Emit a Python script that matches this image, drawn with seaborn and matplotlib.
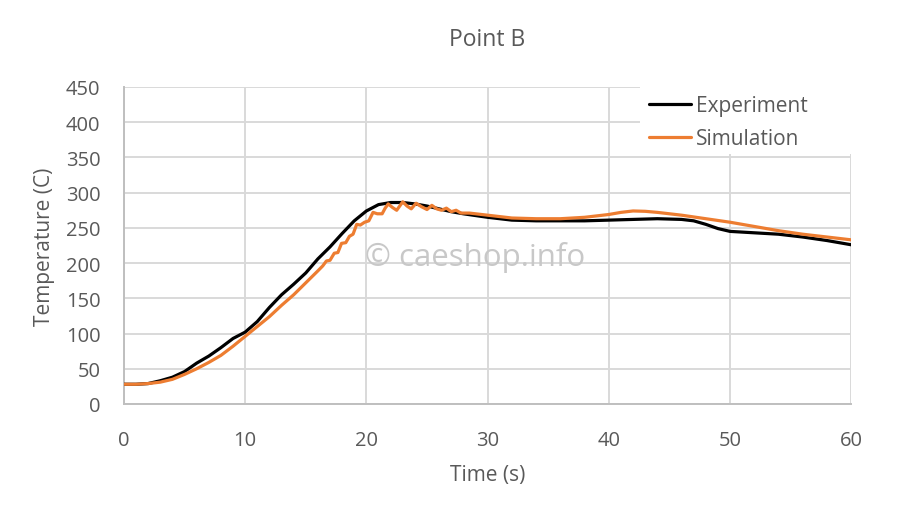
import numpy as np
import pandas as pd
import seaborn as sns
import matplotlib.pyplot as plt
from matplotlib.patches import Rectangle

# experiment curve
exp_t = [0, 1, 2, 3, 4, 5, 6, 7, 8, 9, 10, 11, 12, 13, 14, 15, 16, 17, 18, 19,
         20, 21, 22, 23, 24, 25, 26, 27, 28, 30, 32, 34, 36, 38, 40, 42, 44,
         46, 47, 48, 49, 50, 51, 52, 54, 56, 58, 60]
exp_T = [28, 28, 29, 33, 38, 46, 58, 68, 80, 93, 102, 117, 137, 155, 170, 186,
         206, 223, 242, 260, 274, 283, 286, 286, 284, 281, 277, 273, 270, 265,
         261, 260, 260, 260, 261, 262, 263, 262, 260, 255, 249, 245, 244, 243,
         241, 237, 232, 226]

# simulation curve, wiggles between ~16 and 28 s
sim_t = [0, 1, 2, 3, 4, 5, 6, 7, 8, 9, 10, 11, 12, 13, 14, 15, 16, 16.4, 16.7,
         17.0, 17.35, 17.65, 17.95, 18.3, 18.6, 18.9, 19.2, 19.5, 19.85, 20.2,
         20.55, 20.9, 21.3, 21.55, 21.8, 22.15, 22.5, 22.75, 23.0, 23.35, 23.7,
         23.9, 24.1, 24.55, 25.0, 25.2, 25.4, 25.8, 26.2, 26.6, 27.0, 27.4,
         27.8, 28.5, 30, 32, 34, 36, 38, 40, 41, 42, 43, 44, 46, 48, 50, 52,
         54, 56, 58, 60]
sim_T = [28, 28, 29, 31, 35, 42, 50, 59, 69, 82, 96, 110, 124, 140, 155, 172,
         189, 196, 203, 204, 214, 215, 228, 229, 238, 241, 255, 254, 258, 260,
         272, 270, 270, 278, 284, 279, 275, 281, 287, 281, 277, 281, 285, 280,
         276, 279, 282, 277, 275, 278, 273, 275, 271, 271, 268, 264, 263, 263,
         265, 269, 272, 274, 273.5, 272, 268, 263, 258, 252, 246, 241, 237,
         233]

df = pd.concat([
    pd.DataFrame({'Time': exp_t, 'Temp': exp_T, 'series': 'Experiment'}),
    pd.DataFrame({'Time': sim_t, 'Temp': sim_T, 'series': 'Simulation'}),
])

sns.set_style('white')
plt.rcParams['font.family'] = ['Open Sans', 'DejaVu Sans']
txt = '#595959'
grid = '#d9d9d9'

fig, ax = plt.subplots(figsize=(8.98, 5.10), dpi=100)
fig.subplots_adjust(left=0.138, right=0.948, top=0.8275, bottom=0.2059)

sns.lineplot(data=df, x='Time', y='Temp', hue='series', ax=ax,
             palette={'Experiment': '#000000', 'Simulation': '#ED7D31'},
             linewidth=2.3, estimator=None, sort=False, zorder=3,
             solid_joinstyle='round')

ax.set_xlim(0, 60)
ax.set_ylim(0, 450)
ax.set_xticks(np.arange(0, 61, 10))
ax.set_yticks(np.arange(0, 451, 50))
ax.grid(True, color=grid, linewidth=1.4)
ax.set_axisbelow(True)
for s in ['top', 'right']:
    ax.spines[s].set_visible(False)
for s in ['left', 'bottom']:
    ax.spines[s].set_color('#bfbfbf')
    ax.spines[s].set_linewidth(1.4)
ax.tick_params(axis='x', colors=txt, labelsize=14.5, length=0, pad=19)
ax.tick_params(axis='y', colors=txt, labelsize=14.5, length=0, pad=17)

ax.set_xlabel('Time (s)', color=txt, fontsize=15, labelpad=10)
ax.set_ylabel('Temperature (C)', color=txt, fontsize=15, labelpad=8)
ax.set_title('Point B', color=txt, fontsize=16.5, pad=30)

ax.text(0.483, 0.465, '\u00a9 caeshop.info', transform=ax.transAxes,
        ha='center', va='center', fontsize=22.5, color='#c8c8c8', zorder=2)

# white legend area, Excel style (covers the grid)
ax.add_patch(Rectangle((0.71, 0.789), 0.292, 0.215, transform=ax.transAxes,
                       facecolor='white', edgecolor='none', zorder=1.5,
                       clip_on=False))
leg = ax.legend(loc='upper left', bbox_to_anchor=(0.715, 0.99), frameon=False,
                fontsize=15, handlelength=2.0, handletextpad=0.25,
                borderaxespad=0.0, borderpad=0.25, labelspacing=0.55)
for t in leg.get_texts():
    t.set_color(txt)
for h in leg.get_lines():
    h.set_linewidth(2.3)

fig.savefig('out.png', dpi=100)
